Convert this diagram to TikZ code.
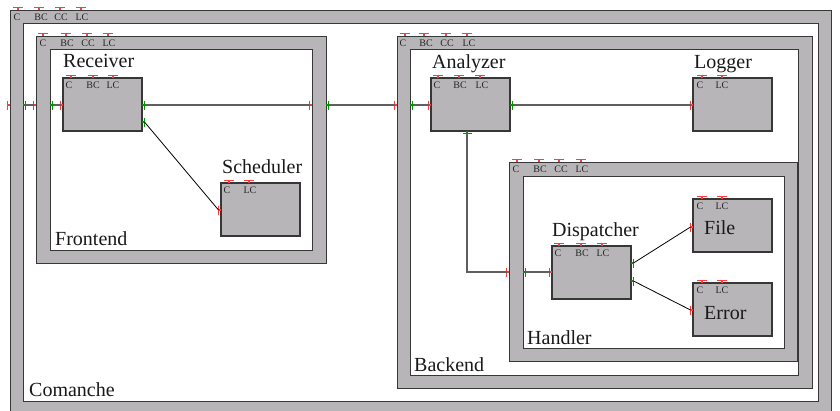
\documentclass[tikz,border=0pt]{standalone}
\usepackage{fontspec}
\setmainfont{Liberation Serif}
\newfontfamily\serifc{Liberation Serif}
\definecolor{boxgray}{RGB}{184,181,184}
\definecolor{portred}{RGB}{255,60,60}
\definecolor{portgreen}{RGB}{0,150,0}
\definecolor{edgec}{RGB}{55,55,55}
\definecolor{connc}{RGB}{95,95,95}
\tikzset{
  frameouter/.style={draw=edgec, fill=boxgray, line width=0.9pt, anchor=north west, inner sep=0pt, outer sep=0pt},
  frameinner/.style={draw=edgec, fill=white, line width=0.9pt, anchor=north west, inner sep=0pt, outer sep=0pt},
  comp/.style={draw=edgec, fill=boxgray, line width=1.2pt, anchor=north west, inner sep=0pt, outer sep=0pt, minimum width=79pt, minimum height=53pt},
  redport/.style={color=portred, line width=1.2pt},
  greenport/.style={color=portgreen, line width=1.2pt},
  conn/.style={draw=connc, line width=1.2pt},
  thinconn/.style={draw=black, line width=0.8pt},
  small/.style={font=\serifc\fontsize{10}{12}\selectfont, inner sep=0pt, text=black!85},
  big/.style={font=\serifc\fontsize{20}{24}\selectfont, inner sep=0pt, anchor=base west, text=black!90},
}
% top required port with label: name, x, ytop, label, label x
\newcommand\tp[5]{%
  \draw[redport] (#2-5,#3-2.5) -- (#2+5,#3-2.5) (#2,#3-2.5) -- (#2,#3);
  \node[small, anchor=base] (#1) at (#5,#3+10) {#4};}
% left red port: name, edge x, y
\newcommand\pl[3]{%
  \coordinate (#1) at (#2-2.5,#3);
  \draw[redport] (#2-2.5,#3-4.5) -- (#2-2.5,#3+4.5) (#2-2.5,#3) -- (#2,#3);}
% right green port: name, edge x, y
\newcommand\pr[3]{%
  \coordinate (#1) at (#2+2.5,#3);
  \draw[greenport] (#2+2.5,#3-4.5) -- (#2+2.5,#3+4.5) (#2,#3) -- (#2+2.5,#3);}
% bottom green port: name, x, edge y
\newcommand\pb[3]{%
  \coordinate (#1) at (#2,#3+2.5);
  \draw[greenport] (#2-4.5,#3+2.5) -- (#2+4.5,#3+2.5) (#2,#3) -- (#2,#3+2.5);}
\begin{document}
\begin{tikzpicture}[x=1pt,y=-1pt]
\useasboundingbox (0,0) rectangle (840,410);
% Comanche
\node[frameouter, minimum width=821pt, minimum height=404pt] (comanche) at (10,10) {};
\node[frameinner, minimum width=795pt, minimum height=378pt] (comancheIn) at (23,23) {};
\tp{cC}{18}{10}{C}{17}
\tp{cBC}{39}{10}{BC}{41}
\tp{cCC}{60}{10}{CC}{61}
\tp{cLC}{81}{10}{LC}{82}
\node[big] (comancheLbl) at (29,396) {Comanche};
% Frontend
\node[frameouter, minimum width=290pt, minimum height=227pt] (frontend) at (36,36) {};
\node[frameinner, minimum width=262pt, minimum height=201pt] (frontendIn) at (50,49) {};
\tp{fC}{43}{36}{C}{43}
\tp{fBC}{66}{36}{BC}{67}
\tp{fCC}{87}{36}{CC}{88}
\tp{fLC}{108}{36}{LC}{109}
\node[big] (frontendLbl) at (55,245) {Frontend};
% Backend
\node[frameouter, minimum width=415pt, minimum height=352pt] (backend) at (397,36) {};
\node[frameinner, minimum width=388pt, minimum height=326pt] (backendIn) at (410,49) {};
\tp{bC}{405}{36}{C}{403}
\tp{bBC}{424}{36}{BC}{426}
\tp{bCC}{446}{36}{CC}{447}
\tp{bLC}{467}{36}{LC}{469}
\node[big] (backendLbl) at (414,371) {Backend};
% Handler
\node[frameouter, minimum width=288pt, minimum height=199pt] (handler) at (509,162) {};
\node[frameinner, minimum width=261pt, minimum height=172pt] (handlerIn) at (523,176) {};
\tp{hC}{517}{162}{C}{516}
\tp{hBC}{539}{162}{BC}{540}
\tp{hCC}{559}{162}{CC}{561}
\tp{hLC}{581}{162}{LC}{582}
\node[big] (handlerLbl) at (527,344) {Handler};
% Receiver
\node[comp] (receiver) at (63,78) {};
\node[big] (receiverLbl) at (63,67) {Receiver};
\tp{rC}{71}{78}{C}{69}
\tp{rBC}{93}{78}{BC}{93}
\tp{rLC}{113}{78}{LC}{113}
% Scheduler
\node[comp] (scheduler) at (221,183) {};
\node[big] (schedulerLbl) at (222,173) {Scheduler};
\tp{sC}{229}{183}{C}{227}
\tp{sLC}{249}{183}{LC}{250}
% Analyzer
\node[comp] (analyzer) at (431,78) {};
\node[big] (analyzerLbl) at (432,68) {Analyzer};
\tp{aC}{438}{78}{C}{437}
\tp{aBC}{459}{78}{BC}{460}
\tp{aLC}{480}{78}{LC}{482}
% Logger
\node[comp] (logger) at (693,78) {};
\node[big] (loggerLbl) at (694,68) {Logger};
\tp{lC}{702}{78}{C}{700}
\tp{lLC}{722}{78}{LC}{722}
% Dispatcher
\node[comp] (dispatcher) at (552,246) {};
\node[big] (dispatcherLbl) at (552,236) {Dispatcher};
\tp{dC}{559}{246}{C}{558}
\tp{dBC}{581}{246}{BC}{582}
\tp{dLC}{602}{246}{LC}{603}
% File
\node[comp] (file) at (693,199) {};
\node[big] (fileLbl) at (704,234) {File};
\tp{flC}{702}{199}{C}{700}
\tp{flLC}{722}{199}{LC}{722}
% Error
\node[comp] (error) at (693,283) {};
\node[big] (errorLbl) at (704,319) {Error};
\tp{eC}{702}{283}{C}{700}
\tp{eLC}{722}{283}{LC}{722}
% ports
\pl{comancheReq}{10}{105}
\pr{comancheDel}{23}{105}
\pl{frontendReq}{36}{105}
\pr{frontendDel}{50}{105}
\pl{receiverReq}{63}{105}
\pr{receiverProv}{142}{105}
\pr{receiverProvB}{142}{122}
\pl{frontendInReq}{312}{105}
\pr{frontendProv}{326}{105}
\pl{schedulerReq}{221}{210}
\pl{backendReq}{397}{105}
\pr{backendDel}{410}{105}
\pl{analyzerReq}{431}{105}
\pr{analyzerProv}{510}{105}
\pb{analyzerProvB}{467}{131}
\pl{loggerReq}{693}{105}
\pl{handlerReq}{509}{272}
\pr{handlerDel}{523}{272}
\pl{dispatcherReq}{552}{272}
\pr{dispatcherProvA}{631}{263}
\pr{dispatcherProvB}{631}{281}
\pl{fileReq}{693}{227}
\pl{errorReq}{693}{310}
% connectors
\draw[conn] (comancheDel) -- (frontendReq);
\draw[conn] (frontendDel) -- (receiverReq);
\draw[conn] (receiverProv) -- (frontendInReq);
\draw[thinconn] (receiverProvB) -- (schedulerReq);
\draw[conn] (frontendProv) -- (backendReq);
\draw[conn] (backendDel) -- (analyzerReq);
\draw[conn] (analyzerProv) -- (loggerReq);
\draw[conn] (analyzerProvB) |- (handlerReq);
\draw[conn] (handlerDel) -- (dispatcherReq);
\draw[thinconn] (dispatcherProvA) -- (fileReq);
\draw[thinconn] (dispatcherProvB) -- (errorReq);
\end{tikzpicture}
\end{document}
